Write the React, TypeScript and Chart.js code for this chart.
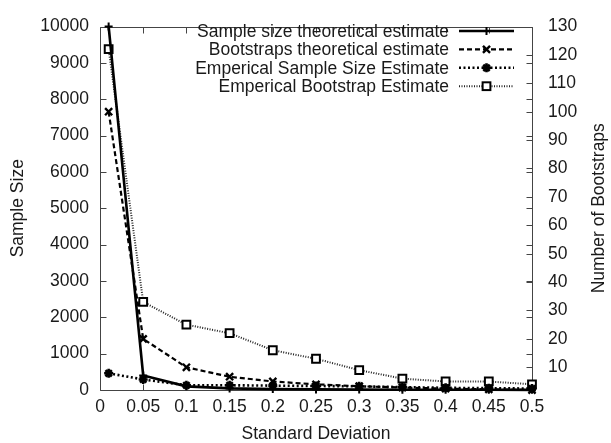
import React, { useEffect, useRef } from "react";
import { Chart, registerables } from "chart.js";

Chart.register(...registerables);

// ---- data ----
const stdDevs = [0.01, 0.05, 0.1, 0.15, 0.2, 0.25, 0.3, 0.35, 0.4, 0.45, 0.5];
const sampleSizeTheoretical = [10000, 400, 100, 44, 25, 16, 11, 8, 6, 5, 4];
const bootstrapsTheoretical = [100, 20, 10, 6.67, 5, 4, 3.33, 2.86, 2.5, 2.22, 2];
const sampleSizeEmpirical = [460, 290, 130, 130, 120, 110, 100, 80, 60, 50, 40];
const bootstrapEmpirical = [122, 33, 25, 22, 16, 13, 9, 6, 5, 5, 4];

const seriesLabels = [
  "Sample size theoretical estimate",
  "Bootstraps theoretical estimate",
  "Emperical Sample Size Estimate",
  "Emperical Bootstrap Estimate",
];

const xTicks = [0, 0.05, 0.1, 0.15, 0.2, 0.25, 0.3, 0.35, 0.4, 0.45, 0.5];
const leftTicks = [0, 1000, 2000, 3000, 4000, 5000, 6000, 7000, 8000, 9000, 10000];
const rightTicks = [10, 20, 30, 40, 50, 60, 70, 80, 90, 100, 110, 120, 130];

const xTitle = "Standard Deviation";
const leftTitle = "Sample Size";
const rightTitle = "Number of Bootstraps";

const FONT = "'Liberation Sans', Arial, Helvetica, sans-serif";
const FONT_SIZE = 17.5;
const TEXT_COLOR = "#1a1a1a";

function toPoints(values: number[]) {
  return stdDevs.map((x, i) => ({ x, y: values[i] }));
}

function drawMarker(
  ctx: CanvasRenderingContext2D,
  style: string,
  x: number,
  y: number,
  r: number,
  lw: number
) {
  ctx.save();
  ctx.setLineDash([]);
  ctx.lineWidth = lw;
  ctx.strokeStyle = "#000";
  ctx.beginPath();
  if (style === "cross" || style === "star") {
    ctx.moveTo(x - r, y);
    ctx.lineTo(x + r, y);
    ctx.moveTo(x, y - r);
    ctx.lineTo(x, y + r);
  }
  if (style === "crossRot" || style === "star") {
    const d = r * 0.707;
    ctx.moveTo(x - d, y - d);
    ctx.lineTo(x + d, y + d);
    ctx.moveTo(x - d, y + d);
    ctx.lineTo(x + d, y - d);
  }
  ctx.stroke();
  if (style === "rect") {
    const s = r * 0.707;
    ctx.fillStyle = "#fff";
    ctx.fillRect(x - s, y - s, 2 * s, 2 * s);
    ctx.strokeRect(x - s, y - s, 2 * s, 2 * s);
  }
  ctx.restore();
}

const framePlugin = {
  id: "gnuplotFrame",
  beforeDatasetsDraw(chart: any) {
    const ctx: CanvasRenderingContext2D = chart.ctx;
    const a = chart.chartArea;
    const xs = chart.scales.x;
    const ys = chart.scales.y;
    const y2 = chart.scales.y2;
    const L = Math.round(a.left) + 0.5;
    const R = Math.round(a.right) + 0.5;
    const T = Math.round(a.top) + 0.5;
    const B = Math.round(a.bottom) + 0.5;
    ctx.save();
    ctx.strokeStyle = "#444";
    ctx.lineWidth = 1;
    ctx.beginPath();
    ctx.rect(L, T, R - L, B - T);
    const tl = 6;
    xTicks.forEach((v) => {
      const px = Math.round(xs.getPixelForValue(v)) + 0.5;
      ctx.moveTo(px, B);
      ctx.lineTo(px, B - tl);
      ctx.moveTo(px, T);
      ctx.lineTo(px, T + tl);
    });
    leftTicks.forEach((v) => {
      const py = Math.round(ys.getPixelForValue(v)) + 0.5;
      ctx.moveTo(L, py);
      ctx.lineTo(L + tl, py);
      ctx.moveTo(R, py);
      ctx.lineTo(R - tl, py);
    });
    rightTicks.forEach((v) => {
      const py = Math.round(y2.getPixelForValue(v)) + 0.5;
      ctx.moveTo(R, py);
      ctx.lineTo(R - tl, py);
    });
    ctx.stroke();
    ctx.restore();
  },
  afterDraw(chart: any) {
    const ctx: CanvasRenderingContext2D = chart.ctx;
    ctx.save();
    // right axis title, reading bottom to top
    ctx.fillStyle = TEXT_COLOR;
    ctx.font = `${FONT_SIZE}px ${FONT}`;
    ctx.textAlign = "center";
    ctx.textBaseline = "middle";
    const a = chart.chartArea;
    ctx.translate(599, (a.top + a.bottom) / 2);
    ctx.rotate(-Math.PI / 2);
    ctx.fillText(rightTitle, 0, 0);
    ctx.restore();

    // legend (gnuplot style: right-aligned text, sample on the right)
    ctx.save();
    ctx.font = `${FONT_SIZE}px ${FONT}`;
    ctx.fillStyle = TEXT_COLOR;
    ctx.textAlign = "right";
    ctx.textBaseline = "middle";
    chart.data.datasets.forEach((ds: any, i: number) => {
      const y = 31 + i * 18.4;
      ctx.fillText(ds.label, 449, y + 1);
      ctx.save();
      ctx.strokeStyle = ds.borderColor;
      ctx.lineWidth = ds.borderWidth;
      ctx.setLineDash(ds.borderDash || []);
      ctx.beginPath();
      ctx.moveTo(459, y);
      ctx.lineTo(514, y);
      ctx.stroke();
      ctx.restore();
      drawMarker(ctx, ds.pointStyle, 486.5, y, ds.legendRadius, ds.pointBorderWidth);
    });
    ctx.restore();
  },
};

export default function App() {
  const canvasRef = useRef<HTMLCanvasElement | null>(null);

  useEffect(() => {
    document.body.style.margin = "0";
    const canvas = canvasRef.current;
    if (!canvas) return;
    const tickFont = { family: FONT, size: FONT_SIZE };
    const chart = new Chart(canvas, {
      type: "line",
      data: {
        datasets: [
          {
            label: seriesLabels[0],
            data: toPoints(sampleSizeTheoretical),
            yAxisID: "y",
            borderColor: "#000",
            borderWidth: 2.6,
            borderDash: [],
            pointStyle: "cross",
            pointRadius: 4,
            pointBorderWidth: 2,
            pointBorderColor: "#000",
            legendRadius: 4,
            clip: false,
          } as any,
          {
            label: seriesLabels[1],
            data: toPoints(bootstrapsTheoretical),
            yAxisID: "y2",
            borderColor: "#000",
            borderWidth: 2.2,
            borderDash: [5, 3],
            pointStyle: "crossRot",
            pointRadius: 5,
            pointBorderWidth: 2.4,
            pointBorderColor: "#000",
            legendRadius: 5,
            clip: false,
          } as any,
          {
            label: seriesLabels[2],
            data: toPoints(sampleSizeEmpirical),
            yAxisID: "y",
            borderColor: "#000",
            borderWidth: 2.6,
            borderDash: [2, 2.5],
            pointStyle: "star",
            pointRadius: 4.5,
            pointBorderWidth: 2.6,
            pointBorderColor: "#000",
            legendRadius: 4.5,
            clip: false,
          } as any,
          {
            label: seriesLabels[3],
            data: toPoints(bootstrapEmpirical),
            yAxisID: "y2",
            borderColor: "#222",
            borderWidth: 2,
            borderDash: [1, 1.5],
            pointStyle: "rect",
            pointRadius: 5.5,
            pointBorderWidth: 2,
            pointBorderColor: "#000",
            pointBackgroundColor: "#fff",
            legendRadius: 5.5,
            clip: false,
          } as any,
        ],
      },
      options: {
        animation: false,
        responsive: false,
        events: [],
        layout: { padding: { top: 17, left: 0, right: 0, bottom: 0 } },
        plugins: {
          legend: { display: false },
          tooltip: { enabled: false },
        },
        elements: { line: { tension: 0 } },
        scales: {
          x: {
            type: "linear",
            min: 0,
            max: 0.5,
            position: "bottom",
            afterBuildTicks: (scale: any) => {
              scale.ticks = xTicks.map((value) => ({ value }));
            },
            afterFit: (scale: any) => {
              scale.height = 53;
            },
            grid: { display: false, drawTicks: false },
            border: { display: false },
            ticks: {
              font: tickFont,
              color: TEXT_COLOR,
              padding: 7,
              maxRotation: 0,
              autoSkip: false,
              callback: (v: any) => String(v),
            },
            title: {
              display: true,
              text: xTitle,
              font: tickFont,
              color: TEXT_COLOR,
              padding: { top: 0, bottom: -2 },
            },
          },
          y: {
            type: "linear",
            position: "left",
            min: 0,
            max: 10000,
            afterBuildTicks: (scale: any) => {
              scale.ticks = leftTicks.map((value) => ({ value }));
            },
            afterFit: (scale: any) => {
              scale.width = 100;
            },
            grid: { display: false, drawTicks: false },
            border: { display: false },
            ticks: {
              font: tickFont,
              color: TEXT_COLOR,
              padding: 11,
              autoSkip: false,
              callback: (v: any) => String(v),
            },
            title: {
              display: true,
              text: leftTitle,
              font: tickFont,
              color: TEXT_COLOR,
              padding: { top: 7.5, bottom: 0 },
            },
          },
          y2: {
            type: "linear",
            position: "right",
            min: 2,
            max: 130,
            afterBuildTicks: (scale: any) => {
              scale.ticks = rightTicks.map((value) => ({ value }));
            },
            afterFit: (scale: any) => {
              scale.width = 79;
            },
            grid: { display: false, drawTicks: false, drawOnChartArea: false },
            border: { display: false },
            ticks: {
              font: tickFont,
              color: TEXT_COLOR,
              padding: 16,
              autoSkip: false,
              callback: (v: any) => String(v),
            },
            title: { display: false },
          },
        },
      } as any,
      plugins: [framePlugin],
    });
    return () => chart.destroy();
  }, []);

  return (
    <div style={{ width: 611, height: 443, background: "#fff" }}>
      <canvas ref={canvasRef} width={611} height={443} style={{ display: "block" }} />
    </div>
  );
}
